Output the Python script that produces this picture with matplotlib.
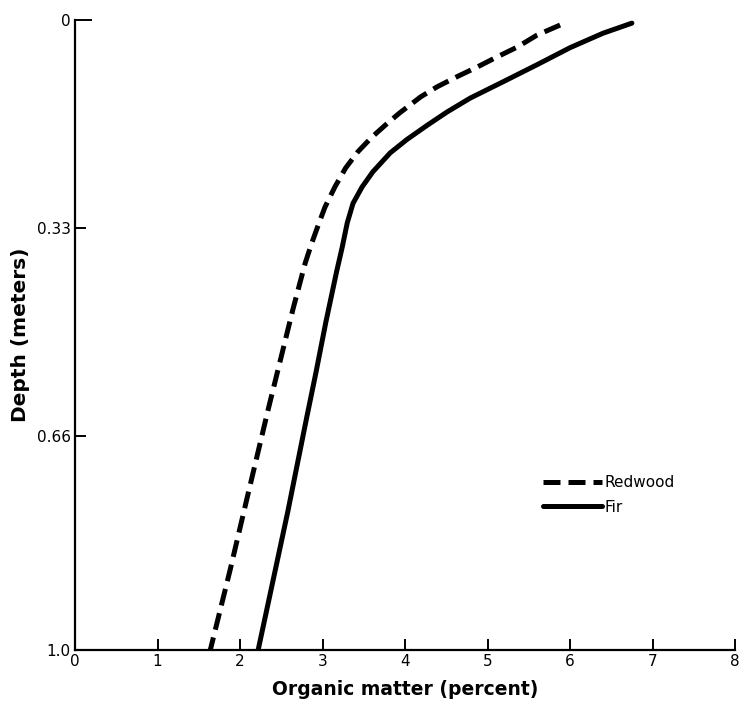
import matplotlib
matplotlib.use("Agg")
import matplotlib.pyplot as plt

# Data
fir_depth = [0.005, 0.021, 0.044, 0.071, 0.098, 0.124, 0.146, 0.167, 0.19, 0.211, 0.241,
             0.265, 0.291, 0.322, 0.36, 0.40, 0.48, 0.56, 0.63, 0.78, 1.0]
fir_om = [6.75, 6.40, 6.00, 5.60, 5.19, 4.79, 4.51, 4.27, 4.02, 3.82, 3.61,
          3.48, 3.37, 3.30, 3.24, 3.17, 3.04, 2.92, 2.81, 2.58, 2.22]

redwood_depth = [0.008, 0.024, 0.043, 0.059, 0.075, 0.09, 0.106, 0.122, 0.148, 0.167, 0.187,
                 0.209, 0.235, 0.265, 0.297, 0.325, 0.354, 0.386, 0.46, 0.529, 0.619,
                 0.762, 0.873, 1.0]
redwood_om = [5.88, 5.60, 5.36, 5.11, 4.87, 4.63, 4.39, 4.19, 3.93, 3.76, 3.59,
              3.43, 3.28, 3.15, 3.03, 2.95, 2.87, 2.79, 2.64, 2.51, 2.34,
              2.08, 1.88, 1.64]

x_ticks = [0, 1, 2, 3, 4, 5, 6, 7, 8]
x_ticklabels = ["0", "1", "2", "3", "4", "5", "6", "7", "8"]
y_ticks = [0, 0.33, 0.66, 1.0]
y_ticklabels = ["0", "0.33", "0.66", "1.0"]

plt.rcParams['font.family'] = ['DejaVu Sans']

fig = plt.figure(figsize=(7.43, 7.05), dpi=100)
ax = fig.add_axes([75/743, 1 - 650/705, 660/743, 630/705])

ax.plot(redwood_om, redwood_depth, color="black", lw=3.6, linestyle=(0, (3.4, 1.6)),
        label="Redwood", dash_capstyle="butt", dash_joinstyle="round")
ax.plot(fir_om, fir_depth, color="black", lw=3.6, label="Fir",
        solid_capstyle="round", solid_joinstyle="round")

ax.set_xlim(0, 8)
ax.set_ylim(1.0, 0)

for s in ["top", "right"]:
    ax.spines[s].set_visible(False)
for s in ["left", "bottom"]:
    ax.spines[s].set_linewidth(1.6)

ax.set_xticks(x_ticks)
ax.set_xticklabels(x_ticklabels, fontsize=11)
ax.set_yticks(y_ticks)
ax.set_yticklabels(y_ticklabels, fontsize=11)
ax.tick_params(axis="both", direction="in", length=8, width=1.4, pad=3)
# longer tick at depth 0
ax.yaxis.get_major_ticks()[0].tick1line.set_markersize(12)

ax.set_xlabel("Organic matter (percent)", fontsize=13.5, fontweight="bold", labelpad=8)
ax.set_ylabel("Depth (meters)", fontsize=14.5, fontweight="bold", labelpad=5)

leg = ax.legend(loc="upper left", bbox_to_anchor=((543 - 75) / 660, (650 - 475) / 630),
                frameon=False, fontsize=11, handlelength=3.86, handletextpad=0.15,
                borderpad=0, borderaxespad=0, labelspacing=0.63)

fig.savefig("out.png", dpi=100, facecolor="white")
